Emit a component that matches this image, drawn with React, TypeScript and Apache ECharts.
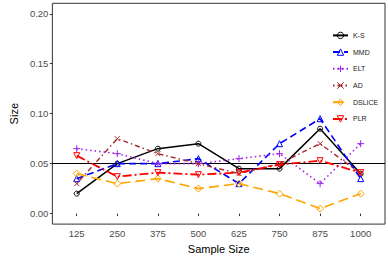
import React, { useEffect, useRef } from "react";
import * as echarts from "echarts";

const sampleSizes = [125, 250, 375, 500, 625, 750, 875, 1000];
const yTicks = [0, 0.05, 0.1, 0.15, 0.2];

const ks = [0.02, 0.05, 0.065, 0.07, 0.045, 0.045, 0.085, 0.04];
const mmd = [0.035, 0.05, 0.05, 0.055, 0.03, 0.07, 0.095, 0.035];
const elt = [0.065, 0.06, 0.05, 0.05, 0.055, 0.06, 0.03, 0.07];
const ad = [0.03, 0.075, 0.06, 0.05, 0.04, 0.05, 0.07, 0.04];
const dslice = [0.04, 0.03, 0.035, 0.025, 0.03, 0.02, 0.005, 0.02];
const plr = [0.058, 0.037, 0.041, 0.039, 0.041, 0.049, 0.053, 0.041];

const refLevel = 0.05;

const seriesDefs = [
  { name: "K-S", data: ks, color: "#000000", dash: "solid" as any, width: 1.5, symbol: "circle", size: 5 },
  { name: "MMD", data: mmd, color: "#0000FF", dash: [7, 4], width: 1.6, symbol: "triangle", size: 6 },
  { name: "ELT", data: elt, color: "#A020F0", dash: [1.5, 3], width: 1.6, symbol: "path://M5,0V10M0,5H10", size: 7 },
  { name: "AD", data: ad, color: "#A52A2A", dash: [1.5, 3, 5, 3], width: 1.4, symbol: "path://M0,0L10,10M10,0L0,10", size: 5 },
  { name: "DSLICE", data: dslice, color: "#FFA500", dash: [10, 5], width: 1.6, symbol: "diamond", size: 7 },
  { name: "PLR", data: plr, color: "#FF0000", dash: [9, 3, 2, 3], width: 1.8, symbol: "path://M0,0L10,0L5,9Z", size: 6 },
];

export default function App() {
  const ref = useRef<HTMLDivElement>(null);
  useEffect(() => {
    if (!ref.current) return;
    const chart = echarts.init(ref.current, null, { renderer: "svg" });
    const font = "Liberation Sans";
    chart.setOption({
      animation: false,
      textStyle: { fontFamily: font },
      grid: {
        left: 35.5,
        right: 3,
        top: 3.3,
        bottom: 26.3,
        show: true,
        borderColor: "#333333",
        borderWidth: 1,
        backgroundColor: "transparent",
      },
      legend: {
        orient: "vertical",
        left: 327,
        top: 26.7,
        itemWidth: 15,
        itemHeight: 8,
        itemGap: 9.3,
        itemStyle: { borderWidth: 1 },
        textStyle: { fontSize: 7, color: "#222222", fontFamily: font },
        data: seriesDefs.map((s) => s.name),
      },
      xAxis: {
        type: "value",
        min: 50,
        max: 1075,
        name: "Sample Size",
        nameLocation: "middle",
        nameGap: 17,
        nameTextStyle: { fontSize: 11, color: "#000000", fontFamily: font },
        axisLine: { show: false },
        splitLine: { show: false },
        axisTick: { show: true, length: 2.5, lineStyle: { color: "#333333" }, customValues: sampleSizes },
        axisLabel: {
          fontSize: 9.5,
          color: "#4D4D4D",
          margin: 4,
          customValues: sampleSizes,
          fontFamily: font,
          formatter: (v: number) => String(v),
        },
      },
      yAxis: {
        type: "value",
        min: -0.0105,
        max: 0.2105,
        name: "Size",
        nameLocation: "middle",
        nameGap: 25,
        nameTextStyle: { fontSize: 11, color: "#000000", fontFamily: font },
        axisLine: { show: false },
        splitLine: { show: false },
        axisTick: { show: true, length: 2.5, lineStyle: { color: "#333333" }, customValues: yTicks },
        axisLabel: {
          fontSize: 9.5,
          color: "#4D4D4D",
          margin: 4,
          customValues: yTicks,
          fontFamily: font,
          formatter: (v: number) => v.toFixed(2),
        },
      },
      series: seriesDefs.map((s, i) => ({
        name: s.name,
        type: "line",
        data: s.data.map((v, j) => [sampleSizes[j], v]),
        symbol: s.symbol,
        symbolSize: s.size,
        showAllSymbol: true,
        z: 3 + i,
        lineStyle: { color: s.color, type: s.dash, width: s.width },
        itemStyle: { color: "transparent", borderColor: s.color, borderWidth: 1 },
        emphasis: { disabled: true },
        markLine:
          i === 0
            ? {
                silent: true,
                symbol: "none",
                label: { show: false },
                lineStyle: { color: "#000000", type: "solid", width: 1 },
                data: [{ yAxis: refLevel }],
                z: 2,
              }
            : undefined,
      })),
    });
    return () => chart.dispose();
  }, []);
  return <div ref={ref} style={{ width: 388, height: 259, position: "absolute", left: 0, top: 0 }} />;
}
